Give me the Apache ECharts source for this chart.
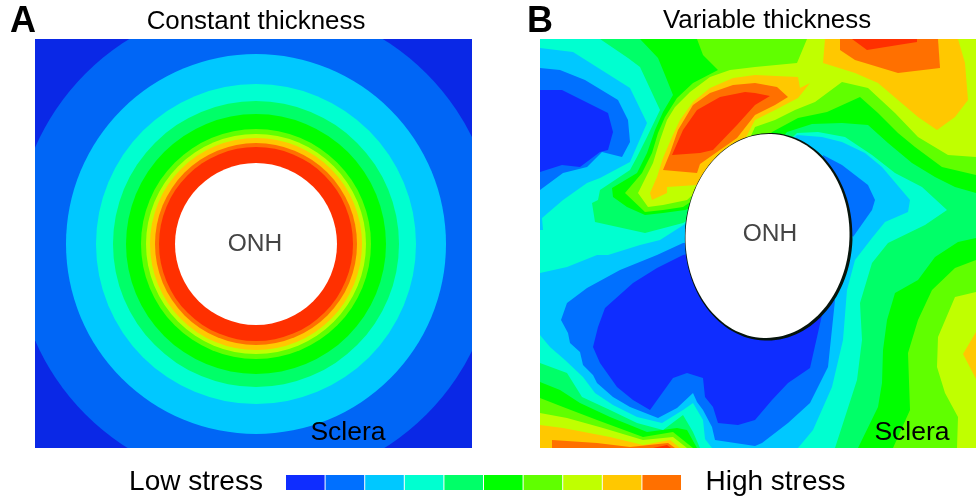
<!DOCTYPE html>
<html><head><meta charset="utf-8">
<style>html,body{margin:0;padding:0;background:#fff}#c{width:976px;height:499px}</style>
<script src="https://cdn.jsdelivr.net/npm/echarts@6/dist/echarts.min.js"></script>
</head><body><div id="c"></div>
<script>
const levelColors=['#0f2dff','#0070ff','#00c8ff','#00ffd0','#00ff68','#00ff00','#60ff00','#c0ff00','#ffc800','#ff7000','#ff3000'];
const constantColors=['#0a28e6','#0066f6','#00c8ff','#00ffd0','#00ff68','#00ff00','#60ff00','#c0ff00','#ffc800','#ff7000','#ff3000'];
const legendLevels=[0,1,2,3,4,5,6,7,8,9];
const ringLevels=[1,2,3,4,5,6,7,8,9,10];
const ringRadii=[241,190,160,143,130,115,110,106,101,97];
const constantHole=[221,205,81];
const variableHole=[227.5,197,82,102,-2];
const low4=[[100,0],[118,19],[125,36],[133,56],[123,73],[115,91],[107,114],[97,134],[72,149],[73,158],[87,168],[105,176],[123,174],[145,171],[200,150],[247,93],[272,85],[302,84],[328,86],[348,104],[372,124],[395,138],[415,148],[436,154],[436,199],[418,203],[395,218],[378,241],[355,254],[347,281],[343,311],[342,344],[338,368],[318,409],[157,409],[147,391],[137,389],[107,393],[70,378],[40,364],[20,351],[0,343],[0,0]];
const low3=[[0,0],[60,0],[88,19],[100,28],[120,71],[107,98],[97,118],[90,131],[60,151],[58,161],[52,164],[55,183],[105,194],[143,184],[200,150],[257,94],[278,93],[305,98],[332,116],[355,134],[382,148],[407,171],[385,186],[348,204],[332,224],[320,264],[322,301],[317,341],[295,409],[160,409],[153,393],[143,376],[123,391],[97,384],[70,371],[42,358],[27,334],[0,324]];
const low2a=[[0,9],[33,13],[90,49],[107,84],[90,123],[60,139],[47,144],[23,161],[2,179],[3,191],[0,191]];
const low2b=[[0,234],[27,228],[57,216],[68,216],[100,206],[120,201],[200,150],[257,96],[282,98],[302,103],[325,114],[342,128],[370,161],[368,173],[345,183],[332,199],[315,221],[307,251],[303,301],[292,348],[273,391],[258,409],[172,409],[165,400],[163,381],[153,364],[143,371],[122,384],[97,378],[73,366],[55,354],[43,338],[25,321],[10,308],[0,296]];
const low1a=[[0,29],[20,31],[45,41],[78,61],[88,81],[90,103],[82,118],[62,113],[47,128],[23,134],[0,151]];
const low1b=[[143,204],[117,216],[80,231],[47,249],[27,264],[21,281],[28,294],[30,304],[40,313],[43,326],[53,336],[57,344],[73,358],[90,368],[118,379],[137,369],[153,354],[157,363],[163,371],[172,388],[175,401],[215,407],[222,404],[248,384],[270,364],[288,328],[295,261],[230,200]];
const low1c=[[283,116],[302,126],[328,146],[335,161],[332,171],[313,198],[280,150]];
const low0a=[[0,51],[22,51],[68,74],[73,93],[68,111],[60,113],[40,128],[22,126],[0,133]];
const low0b=[[143,216],[117,229],[93,244],[65,269],[58,288],[53,308],[60,324],[77,348],[93,361],[110,371],[133,339],[147,334],[163,339],[165,358],[173,368],[178,384],[198,386],[215,381],[232,361],[248,344],[270,329],[282,276],[230,200]];
const high6a=[[157,0],[436,0],[436,136],[402,128],[375,108],[358,94],[338,74],[320,58],[287,73],[258,79],[232,93],[200,130],[143,168],[123,171],[105,173],[85,154],[102,134],[112,114],[118,94],[125,78],[137,59],[153,44],[178,31],[163,16]];
const high6b=[[436,221],[415,229],[392,251],[378,281],[368,314],[370,371],[353,409],[436,409]];
const high6c=[[0,359],[23,368],[57,381],[103,398],[133,393],[153,409],[0,409]];
const high7a=[[267,0],[436,0],[436,118],[408,116],[378,98],[355,74],[328,49],[302,43],[275,63],[255,71],[235,81],[215,88],[205,110],[147,161],[123,166],[108,168],[98,154],[103,144],[113,124],[120,101],[127,81],[135,68],[150,53],[170,38],[190,31],[215,28],[257,24]];
const high7b=[[436,253],[415,258],[398,298],[397,328],[405,354],[418,378],[417,409],[436,409]];
const high7c=[[0,374],[27,379],[63,389],[103,401],[133,398],[147,409],[0,409]];
const high8a=[[285,0],[283,24],[315,34],[338,44],[358,61],[378,78],[397,91],[415,78],[428,61],[425,24],[418,0]];
const high8b=[[110,154],[117,138],[123,119],[132,98],[140,81],[153,63],[170,49],[193,39],[215,36],[258,38],[260,49],[270,44],[258,59],[235,71],[215,81],[200,110],[157,146],[127,148],[127,154],[112,161]];
const high8c=[[0,386],[23,389],[70,398],[103,406],[130,401],[140,409],[0,409]];
const high8d=[[436,293],[423,315],[436,340]];
const high9a=[[300,0],[300,11],[315,21],[358,34],[400,29],[398,0]];
const high9b=[[123,131],[130,114],[138,91],[153,66],[170,54],[193,46],[215,44],[237,48],[248,58],[235,66],[215,76],[197,99],[160,125],[157,134]];
const high9c=[[12,401],[57,404],[90,408],[128,404],[135,409],[12,409]];
const high10a=[[312,0],[327,11],[358,6],[377,3],[377,0]];
const high10b=[[132,116],[143,91],[157,71],[180,58],[205,53],[215,54],[230,57],[215,66],[197,86],[173,111],[160,114]];
const high10c=[[113,409],[127,406],[131,409]];
const contours=[
 [4,low4],[3,low3],[2,low2a],[2,low2b],[1,low1a],[1,low1b],[1,low1c],[0,low0a],[0,low0b],
 [6,high6a],[6,high6b],[6,high6c],[7,high7a],[7,high7b],[7,high7c],
 [8,high8a],[8,high8b],[8,high8c],[8,high8d],[9,high9a],[9,high9b],[9,high9c],[10,high10a],[10,high10b],[10,high10c]
];
function hidden(i,max){return {gridIndex:i,type:'value',min:0,max:max,show:false};}
function text(t,x,y,size,fill,weight,align){return {type:'text',x:x,y:y,z:100,style:{text:t,fill:fill||'#000',textAlign:align||'center',textVerticalAlign:'middle',font:(weight||'normal')+' '+size+'px "Liberation Sans", Arial, sans-serif'}};}
const chart=echarts.init(document.getElementById('c'),null,{renderer:'canvas'});
chart.setOption({
 animation:false,
 grid:[{left:35,top:39,width:437,height:409},{left:540,top:39,width:436,height:409},{left:286,top:475,width:396,height:15}],
 xAxis:[hidden(0,437),hidden(1,436),{gridIndex:2,type:'category',data:legendLevels,show:false}],
 yAxis:[Object.assign(hidden(0,409),{inverse:true}),Object.assign(hidden(1,409),{inverse:true}),{gridIndex:2,type:'value',min:0,max:1,show:false}],
 graphic:[
  text('A',23,22,36,'#000','bold'),text('B',540,22,36,'#000','bold'),
  text('Constant thickness',256,22,25.9),text('Variable thickness',767,21,25.9),
  text('ONH',255,244,24.5,'#444'),text('ONH',770,234,24.5,'#444'),
  text('Sclera',348,433,26.5),text('Sclera',912,433,26.5),
  text('Low stress',196,482,28),text('High stress',775.5,482,28)
 ],
 series:[
  {type:'custom',xAxisIndex:0,yAxisIndex:0,clip:true,silent:true,coordinateSystem:'cartesian2d',data:[0],
   renderItem:function(p,api){
    const tl=api.coord([0,0]),s=api.size([437,409]);
    const c=api.coord([constantHole[0],constantHole[1]]);
    const kids=[{type:'rect',shape:{x:tl[0],y:tl[1],width:s[0],height:s[1]},style:{fill:constantColors[0]}}];
    ringRadii.forEach(function(r,i){kids.push({type:'circle',shape:{cx:c[0],cy:c[1],r:api.size([r,r])[0]},style:{fill:constantColors[ringLevels[i]]}});});
    kids.push({type:'circle',shape:{cx:c[0],cy:c[1],r:api.size([constantHole[2],0])[0]},style:{fill:'#fff'}});
    return {type:'group',children:kids};
   }},
  {type:'custom',xAxisIndex:1,yAxisIndex:1,clip:true,silent:true,coordinateSystem:'cartesian2d',data:[0],
   renderItem:function(p,api){
    const tl=api.coord([0,0]),s=api.size([436,409]);
    const kids=[{type:'rect',shape:{x:tl[0],y:tl[1],width:s[0],height:s[1]},style:{fill:levelColors[5]}}];
    contours.forEach(function(ct){kids.push({type:'polygon',shape:{points:ct[1].map(function(q){return api.coord(q);})},style:{fill:levelColors[ct[0]]}});});
    const c=api.coord([variableHole[0],variableHole[1]]),rot=variableHole[4]*Math.PI/180;
    kids.push({type:'ellipse',x:c[0]+1.2,y:c[1]+0.8,rotation:rot,shape:{cx:0,cy:0,rx:variableHole[2]+1.8,ry:variableHole[3]+1.8},style:{fill:'#06140c'}});
    kids.push({type:'ellipse',x:c[0],y:c[1],rotation:rot,shape:{cx:0,cy:0,rx:variableHole[2],ry:variableHole[3]},style:{fill:'#fff'}});
    return {type:'group',children:kids};
   }},
  {type:'custom',xAxisIndex:2,yAxisIndex:2,silent:true,coordinateSystem:'cartesian2d',data:legendLevels.map(function(l,i){return [i,1];}),
   renderItem:function(p,api){
    const i=api.value(0),c=api.coord([i,1]),b=api.coord([i,0]),w=api.size([1,0])[0];
    return {type:'rect',shape:{x:c[0]-w/2,y:c[1],width:w-1,height:b[1]-c[1]},style:{fill:levelColors[legendLevels[i]]}};
   }}
 ]
});
</script></body></html>
